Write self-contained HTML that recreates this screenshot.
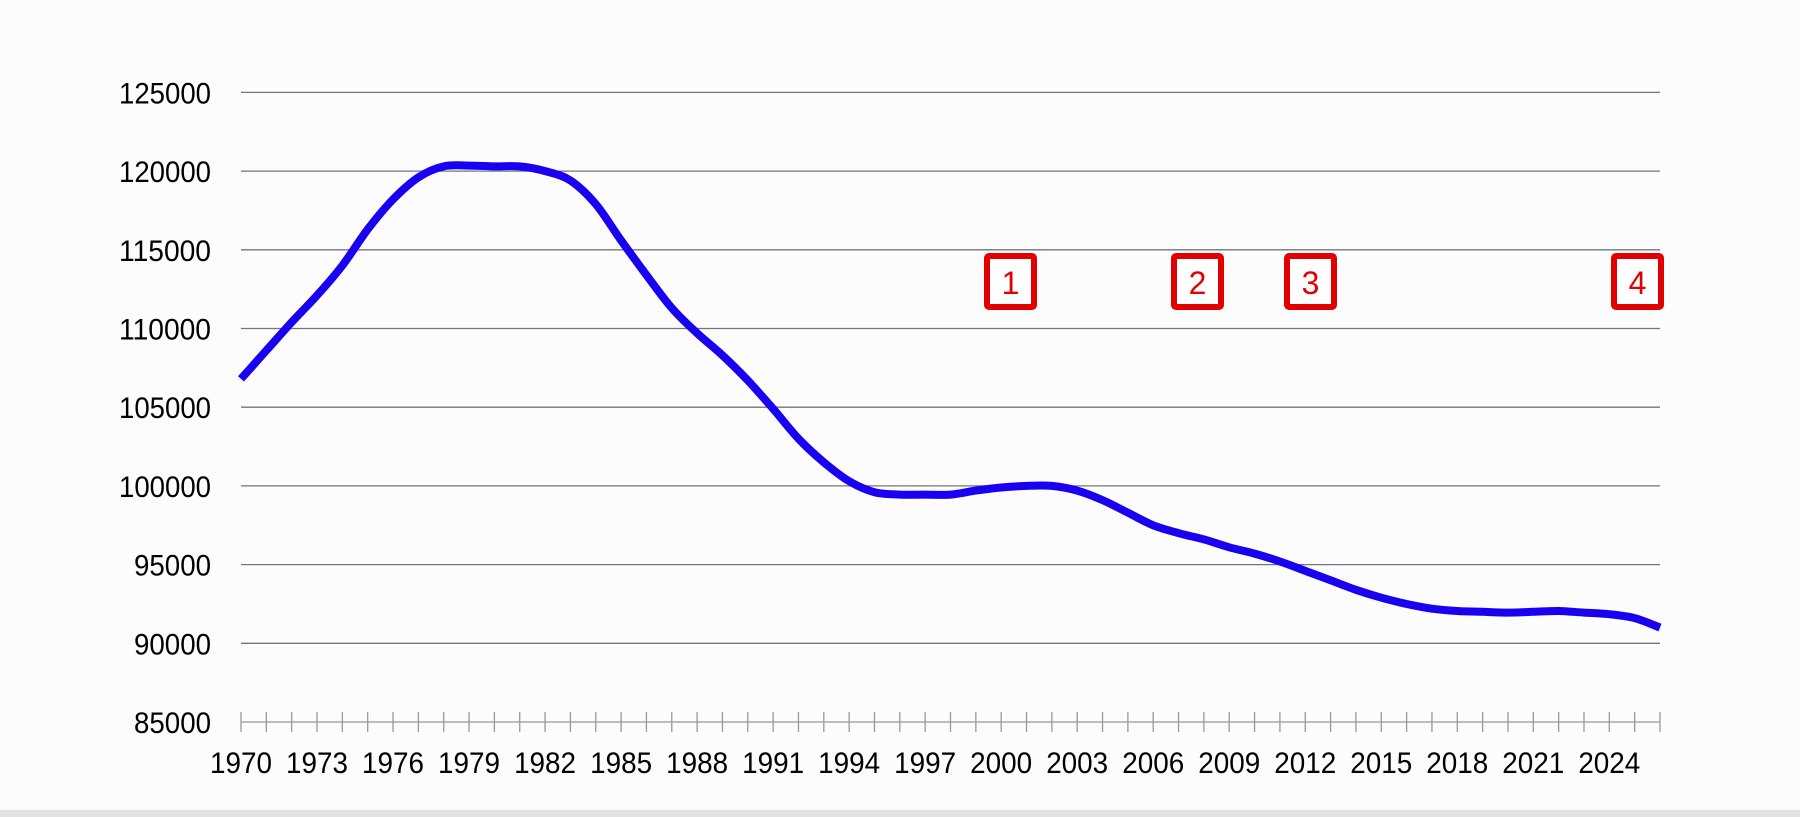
<!DOCTYPE html>
<html><head><meta charset="utf-8"><style>
html,body{margin:0;padding:0;background:#fcfcfd;}
body{width:1800px;height:817px;overflow:hidden;position:relative;font-family:"Liberation Sans",sans-serif;}
</style></head><body>
<svg id="c" width="1800" height="817" xmlns="http://www.w3.org/2000/svg" style="position:absolute;left:0;top:0">
<rect x="0" y="0" width="1800" height="810" fill="#fcfcfd"/>
<rect x="0" y="810" width="1800" height="7" fill="#e2e2e4"/>
</svg>
<script>
var s=document.getElementById('c'),NS='http://www.w3.org/2000/svg';
function el(t,a,txt){var e=document.createElementNS(NS,t);for(var k in a)e.setAttribute(k,a[k]);if(txt!=null)e.textContent=txt;s.appendChild(e);return e;}
var x0=241,x1=1660;function X(yr){return x0+(yr-1970)*(x1-x0)/56;}
function Y(v){return 722-(v-85000)/5000*78.7;}
for(var v=85000;v<=125000;v+=5000){
 var y=Y(v);
 el('line',{x1:x0,x2:x1,y1:y,y2:y,stroke:v==85000?'#999':'#6f7680','stroke-width':1.3});
 var w=v>=100000?92:77;
 el('text',{x:211-w,y:y+11,'font-size':30,fill:'#000',textLength:w,lengthAdjust:'spacingAndGlyphs'},String(v));
}
for(var yr=1970;yr<=2026;yr++){var x=X(yr);el('line',{x1:x,x2:x,y1:712,y2:732,stroke:'#999','stroke-width':1.3});}
for(var yr=1970;yr<=2024;yr+=3){el('text',{x:X(yr)-31,y:773,'font-size':30,fill:'#000',textLength:62,lengthAdjust:'spacingAndGlyphs'},String(yr));}
var d=[106800,108600,110400,112100,114000,116300,118200,119600,120300,120350,120300,120300,120000,119400,117900,115600,113400,111300,109700,108300,106700,104900,103000,101500,100300,99600,99450,99450,99450,99700,99900,100000,100000,99700,99100,98300,97500,97000,96600,96100,95700,95200,94600,94000,93400,92900,92500,92200,92050,92000,91950,92000,92050,91950,91850,91600,91000];
var P=d.map(function(v,i){return [X(1970+i),Y(v)];});
var path='M'+P[0][0]+','+P[0][1];
for(var i=0;i<P.length-1;i++){
 var a=P[Math.max(i-1,0)],b=P[i],c=P[i+1],e=P[Math.min(i+2,P.length-1)];
 var c1=[b[0]+(c[0]-a[0])/6,b[1]+(c[1]-a[1])/6],c2=[c[0]-(e[0]-b[0])/6,c[1]-(e[1]-b[1])/6];
 path+=' C'+c1[0].toFixed(1)+','+c1[1].toFixed(1)+' '+c2[0].toFixed(1)+','+c2[1].toFixed(1)+' '+c[0].toFixed(1)+','+c[1].toFixed(1);
}
el('path',{d:path,fill:'none',stroke:'#1a00f0','stroke-width':8,'stroke-linejoin':'round','stroke-linecap':'butt'});
[[984,'1'],[1171,'2'],[1284,'3'],[1611,'4']].forEach(function(b){
 el('rect',{x:b[0]+3,y:256,width:47,height:51,rx:2,fill:'#fff',stroke:'#e00000','stroke-width':6});
 el('text',{x:b[0]+26.5,y:294,'text-anchor':'middle','font-size':32,fill:'#e00000'},b[1]);
});
</script>
</body></html>
